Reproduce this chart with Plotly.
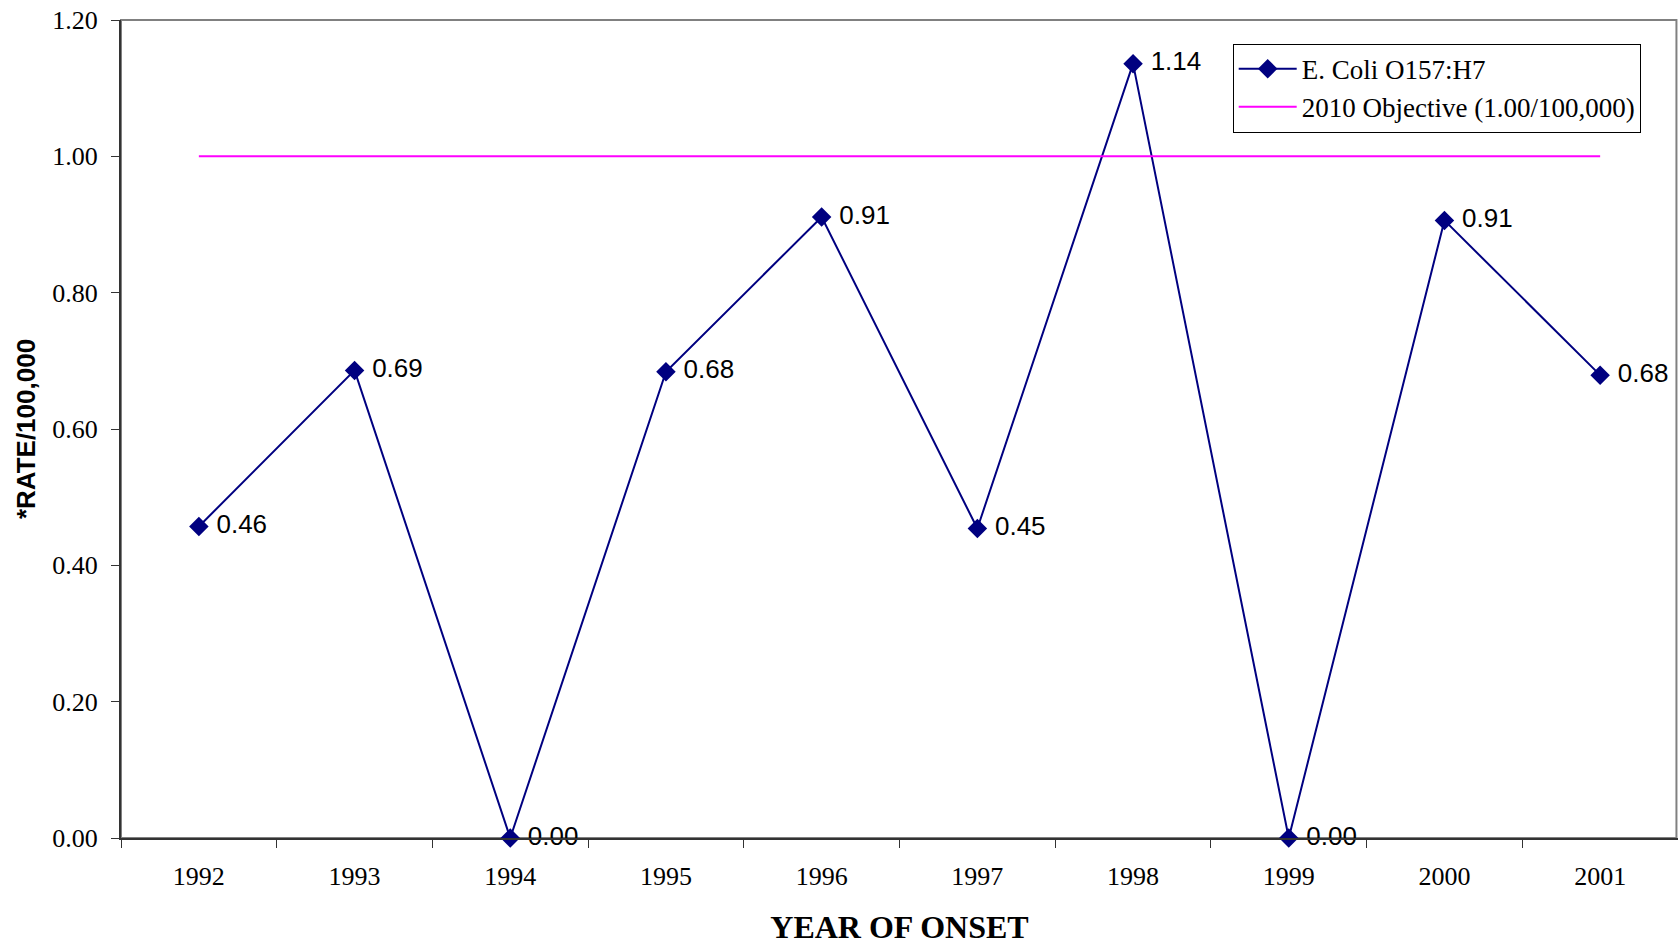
import plotly.graph_objects as go

# Data
years = ["1992", "1993", "1994", "1995", "1996", "1997", "1998", "1999", "2000", "2001"]
rates = [0.457, 0.686, 0.0, 0.684, 0.911, 0.454, 1.136, 0.0, 0.906, 0.679]
objective = [1.00] * len(years)

serif = "Liberation Serif, Times New Roman, serif"
sans = "Liberation Sans, Arial, sans-serif"

fig = go.Figure()

fig.add_trace(go.Scatter(x=years, y=rates, name="E. Coli O157:H7", mode="lines+markers+text",
                         line=dict(color="#000080", width=2),
                         marker=dict(symbol="diamond", size=15, color="#000080"),
                         text=[f"\u00a0{v:.2f}" for v in rates], textposition="middle right",
                         textfont=dict(family=sans, size=26, color="black"),
                         cliponaxis=False))

fig.add_trace(go.Scatter(x=years, y=objective, name="2010 Objective (1.00/100,000)", mode="lines",
                         line=dict(color="#FF00FF", width=2)))

# gray frame on top and right
fig.add_shape(type="rect", xref="paper", yref="paper", x0=0, y0=0, x1=0.999, y1=1,
              line=dict(color="#808080", width=2), layer="below")

fig.update_layout(
    width=1678, height=945,
    margin=dict(l=121, r=0, t=20, b=107, autoexpand=False),
    plot_bgcolor="white", paper_bgcolor="white",
    font=dict(family=serif, size=26, color="black"),
    legend=dict(x=0.714, y=0.971, xanchor="left", yanchor="top",
                bgcolor="white", bordercolor="black", borderwidth=1,
                font=dict(family=serif, size=27), tracegroupgap=0, itemwidth=58),
)

fig.update_xaxes(type="category", range=[-0.5, 9.5], tickson="boundaries", automargin=False,
                 ticks="outside", ticklen=8, tickcolor="#333", tickwidth=1,
                 showline=True, linecolor="#333", linewidth=2, showgrid=False,
                 ticklabelstandoff=14,
                 title=dict(text="<b>YEAR OF ONSET</b>", font=dict(family=serif, size=32), standoff=26))

fig.update_yaxes(range=[0, 1.2], tickvals=[0, 0.2, 0.4, 0.6, 0.8, 1.0, 1.2], automargin=False,
                 ticktext=["0.00", "0.20", "0.40", "0.60", "0.80", "1.00", "1.20"],
                 ticks="outside", ticklen=8, tickcolor="#333", tickwidth=1,
                 showline=True, linecolor="#333", linewidth=2, showgrid=False, zeroline=False,
                 ticklabelstandoff=8, ticklabeloverflow="allow",
                 title=dict(text="<b>*RATE/100,000</b>", font=dict(family=sans, size=26), standoff=9))

# drop the default 8px page margin so the figure fills the window
fig.write_html("out.html", config={"displayModeBar": False},
               post_script="document.body.style.margin='0';")
